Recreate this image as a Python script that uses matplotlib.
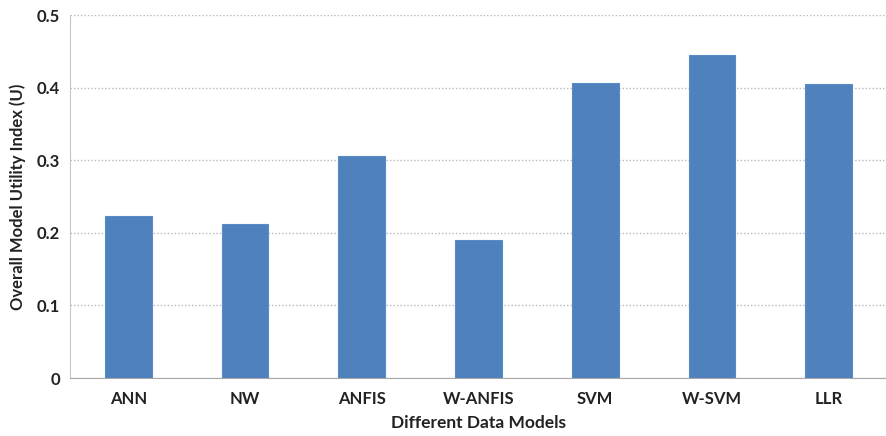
import matplotlib
matplotlib.use('Agg')
import matplotlib.pyplot as plt
import numpy as np

# 模型名称与效用指数
models = ['ANN', 'NW', 'ANFIS', 'W-ANFIS', 'SVM', 'W-SVM', 'LLR']
utility = [0.223, 0.212, 0.306, 0.190, 0.406, 0.445, 0.405]
yticks = [0, 0.1, 0.2, 0.3, 0.4, 0.5]
ytick_labels = ['0', '0.1', '0.2', '0.3', '0.4', '0.5']

plt.rcParams['font.family'] = ['Lato', 'DejaVu Sans']

fig = plt.figure(figsize=(8.87, 4.36), dpi=100)
ax = fig.add_axes([70 / 887, 58 / 436, 817 / 887, 363 / 436])

x = np.arange(len(models))
ax.bar(x, utility, width=0.40, color='#4F81BD', edgecolor='#5B8BC6', linewidth=0.8, zorder=3)

ax.set_xlim(-0.5, len(models) - 0.5)
ax.set_ylim(0, 0.5)
ax.set_yticks(yticks)
ax.set_yticklabels(ytick_labels)
ax.set_xticks(x)
ax.set_xticklabels(models)

ax.yaxis.grid(True, linestyle=(0, (1, 1.5)), color='#B8B8B8', linewidth=1.0, zorder=0)
ax.set_axisbelow(True)

for side in ['top', 'right']:
    ax.spines[side].set_visible(False)
ax.spines['left'].set_color('#C8C8C8')
ax.spines['bottom'].set_color('#A8A8A8')
ax.tick_params(axis='both', length=0, labelsize=12, colors='#222222')
ax.tick_params(axis='y', pad=7)
ax.tick_params(axis='x', pad=9)
for lbl in ax.get_xticklabels() + ax.get_yticklabels():
    lbl.set_fontweight('bold')

ax.set_xlabel('Different Data Models', fontsize=12.5, fontweight='bold', color='#222222', labelpad=6)
ax.set_ylabel('Overall Model Utility Index (U)', fontsize=12, fontweight='bold', color='#222222', labelpad=8)

fig.savefig('out.png', dpi=100, facecolor='white')
